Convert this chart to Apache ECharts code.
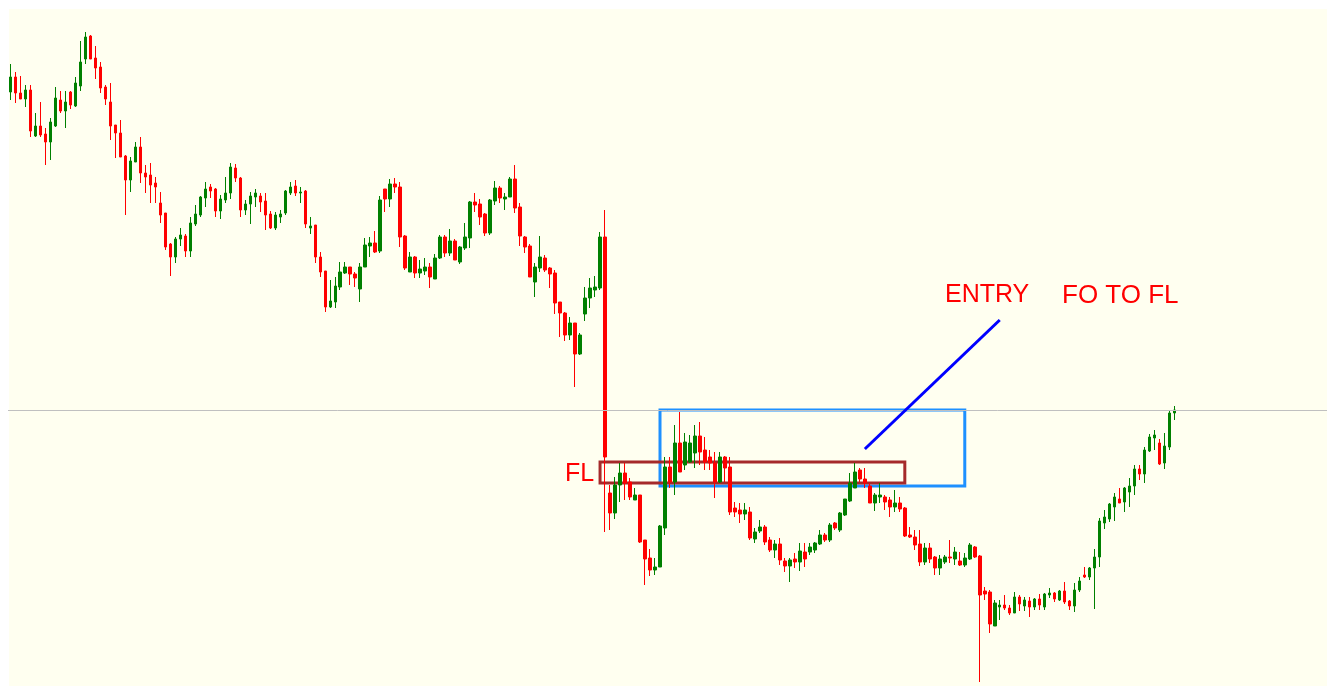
<!DOCTYPE html>
<html>
<head>
<meta charset="utf-8">
<title>FO TO FL</title>
<script src="https://cdn.jsdelivr.net/npm/echarts@6/dist/echarts.min.js"></script>
<style>
  html, body { margin: 0; padding: 0; background: #ffffff; }
  #main { width: 1327px; height: 686px; }
</style>
</head>
<body>
<div id="main"></div>
<script>
// candle values, one entry per bar (price units, higher = up)
var opens = [
  608,623,607,601,610,564,574,566,558,574,
  600,589,608,594,614,641,664,642,633,613,
  598,575,567,544,520,538,553,527,525,517,
  497,487,456,443,461,464,449,476,485,502,
  513,511,489,500,507,532,522,490,496,503,
  504,499,486,472,483,487,507,514,507,509,
  472,475,443,429,393,398,413,427,433,426,
  411,433,454,457,449,511,501,516,513,464,
  428,443,427,429,433,421,442,463,447,459,
  438,452,462,498,496,486,467,499,512,501,
  503,521,493,463,454,418,432,442,432,427,
  398,387,365,377,346,386,402,410,412,463,
  207,187,215,227,218,200,205,160,142,130,
  133,172,233,218,257,235,238,247,264,250,
  243,237,218,243,233,192,190,186,188,161,
  169,173,160,150,156,139,134,141,138,148,
  148,150,156,165,160,177,170,185,199,212,
  230,221,214,197,203,203,200,193,197,192,
  165,163,156,138,152,143,132,138,143,141,
  139,135,141,153,144,109,108,74,93,95,
  92,87,103,94,99,93,101,93,105,107,
  100,109,99,94,110,125,123,132,143,177,
  181,193,201,198,208,214,231,226,249,262,
  257,237,253,287
];
var closes = [
  623,607,601,610,569,574,565,558,578,602,
  589,598,595,617,638,663,641,632,612,601,
  574,567,543,520,539,553,527,523,515,513,
  485,453,443,461,465,449,477,486,503,511,
  509,489,501,507,533,522,490,496,504,507,
  498,485,472,485,486,509,513,507,508,476,
  474,443,428,393,399,414,428,433,426,422,
  433,455,457,448,500,501,516,513,463,432,
  443,427,431,433,423,442,463,447,459,440,
  453,463,498,495,483,467,500,512,502,503,
  521,492,464,453,423,433,443,430,426,397,
  387,365,377,346,365,402,412,413,463,243,
  187,215,227,217,203,205,158,141,130,133,
  174,233,218,257,228,258,257,264,248,238,
  237,218,243,232,188,188,186,190,162,168,
  173,158,150,156,140,134,140,138,149,141,
  153,157,165,160,175,172,187,201,217,228,
  221,217,197,205,205,198,193,197,191,164,
  163,155,138,152,141,132,141,143,142,148,
  135,142,155,143,105,106,76,97,95,92,
  87,103,96,100,93,101,95,106,107,101,
  109,98,94,110,119,123,132,143,179,183,
  196,203,197,212,214,231,226,250,263,265,
  236,254,287,290
];
var lows = [
  600,597,601,593,563,563,563,535,540,573,
  587,572,591,593,609,636,641,621,607,595,
  560,542,543,485,508,538,517,507,497,497,
  477,450,424,437,454,443,443,474,483,493,
  502,483,481,497,501,518,483,485,476,493,
  488,470,471,470,477,485,505,504,497,472,
  466,437,423,388,392,392,410,426,415,413,
  398,433,443,447,447,488,493,507,453,430,
  428,422,422,425,412,421,441,443,444,440,
  436,450,452,488,475,464,465,495,497,490,
  503,487,454,447,423,403,428,428,412,386,
  363,359,360,313,345,379,392,403,410,168,
  170,181,198,200,200,200,157,115,124,125,
  133,165,212,205,228,230,237,232,235,230,
  230,202,217,218,185,183,177,180,160,157,
  167,155,148,142,135,128,118,132,129,133,
  145,147,155,158,158,170,168,184,198,212,
  218,212,197,189,197,190,183,188,188,163,
  162,150,134,135,137,125,125,136,137,135,
  134,133,140,142,18,100,67,74,80,90,
  85,87,89,89,83,90,90,90,102,98,
  99,96,90,88,108,122,120,91,133,171,
  178,179,197,188,193,205,220,217,248,250,
  235,231,250,280
];
var highs = [
  636,628,624,615,615,587,598,572,582,613,
  609,609,609,623,659,668,665,654,638,615,
  617,575,580,545,543,558,563,535,537,523,
  508,487,457,463,472,466,483,495,504,518,
  516,512,505,523,537,536,523,500,508,511,
  507,507,489,488,490,510,518,520,513,510,
  483,475,448,429,420,423,438,438,433,428,
  437,462,463,469,504,511,521,522,518,465,
  448,444,440,442,437,446,465,465,471,461,
  454,477,499,507,501,487,501,519,514,507,
  523,535,497,464,456,437,464,445,433,430,
  398,388,383,377,367,413,422,424,468,490,
  215,223,237,237,222,212,205,160,151,142,
  175,243,243,275,288,267,265,275,278,263,
  250,248,248,244,243,198,197,197,193,172,
  180,175,163,160,162,142,142,147,157,157,
  157,158,170,167,177,178,188,201,227,237,
  232,232,217,207,217,205,203,210,203,193,
  173,170,170,157,157,144,145,145,160,153,
  148,147,157,154,145,113,110,100,100,105,
  95,108,105,103,103,102,106,107,112,108,
  110,118,100,117,123,133,133,151,182,190,
  197,207,212,213,222,235,235,253,266,270,
  261,267,290,294
];

// empty bars after the last candle (chart shift on the right)
var emptyBars = 30;
var categories = [];
for (var i = 0; i < opens.length + emptyBars; i++) {
  categories.push(String(i));
}

var levelLine = 290;                       // grey horizontal level
var entryBox = [[130, 290], [191, 214]];   // blue box
var flBox = [[118, 238], [179, 217]];      // dark red FL box
var arrowLine = [[171.2, 251], [198.2, 380]];

var candles = [];
for (var j = 0; j < opens.length; j++) {
  candles.push([opens[j], closes[j], lows[j], highs[j]]);
}

var labelFont = '25px "Liberation Sans", Arial, sans-serif';

var myChart = echarts.init(document.getElementById('main'));
var option = {
  animation: false,
  backgroundColor: '#ffffff',
  grid: {
    left: 8,
    top: 0,
    width: 1320,
    height: 686
  },
  xAxis: {
    type: 'category',
    data: categories,
    show: false,
    boundaryGap: true
  },
  yAxis: {
    type: 'value',
    min: 14,
    max: 700,
    show: false,
    splitLine: { show: false }
  },
  graphic: [
    {
      type: 'rect',
      z: -10,
      silent: true,
      shape: { x: 9, y: 9, width: 1318, height: 677 },
      style: { fill: '#fffff0' }
    },
    {
      type: 'text', left: 565, top: 462, z: 10,
      style: { text: 'FL', fill: '#ff0000', font: labelFont }
    },
    {
      type: 'text', left: 945, top: 283, z: 10,
      style: { text: 'ENTRY', fill: '#ff0000', font: labelFont }
    },
    {
      type: 'text', left: 1062, top: 283, z: 10,
      style: { text: 'FO TO FL', fill: '#ff0000', font: '26px "Liberation Sans", Arial, sans-serif' }
    }
  ],
  series: [
    {
      type: 'candlestick',
      data: candles,
      barWidth: 3,
      itemStyle: {
        color: '#008000',
        color0: '#ff0000',
        borderColor: '#008000',
        borderColor0: '#ff0000',
        borderWidth: 1
      },
      markLine: {
        silent: true,
        symbol: ['none', 'none'],
        label: { show: false },
        data: [
          { yAxis: levelLine, lineStyle: { color: '#c0c0c0', width: 1, type: 'solid' } },
          [
            { coord: arrowLine[0], lineStyle: { color: '#0000ff', width: 3, type: 'solid' } },
            { coord: arrowLine[1] }
          ]
        ]
      },
      markArea: {
        silent: true,
        label: { show: false },
        data: [
          [
            { coord: entryBox[0], itemStyle: { color: 'rgba(0,0,0,0)', borderColor: '#1e90ff', borderWidth: 3 } },
            { coord: entryBox[1] }
          ],
          [
            { coord: flBox[0], itemStyle: { color: 'rgba(0,0,0,0)', borderColor: '#a52a2a', borderWidth: 3 } },
            { coord: flBox[1] }
          ]
        ]
      }
    }
  ]
};

myChart.setOption(option);
</script>
</body>
</html>
